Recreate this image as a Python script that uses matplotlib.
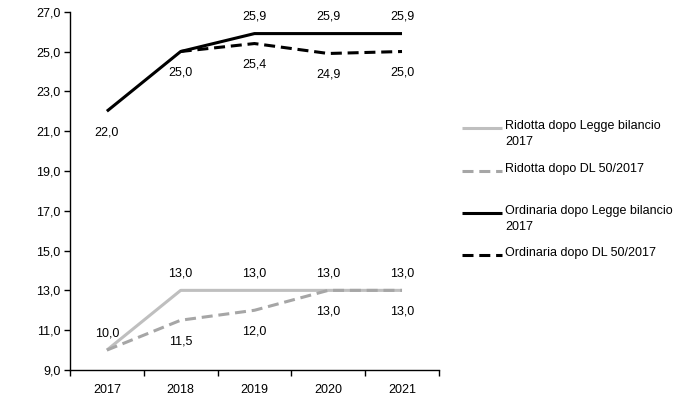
import matplotlib
matplotlib.use("Agg")
import matplotlib.pyplot as plt
import numpy as np

plt.rcParams['font.family'] = ['Liberation Sans', 'DejaVu Sans']

years = ['2017', '2018', '2019', '2020', '2021']
ridotta_legge = [10.0, 13.0, 13.0, 13.0, 13.0]
ridotta_dl = [10.0, 11.5, 12.0, 13.0, 13.0]
ordinaria_legge = [22.0, 25.0, 25.9, 25.9, 25.9]
ordinaria_dl = [np.nan, 25.0, 25.4, 24.9, 25.0]

series_labels = ['Ridotta dopo Legge bilancio\n2017', 'Ridotta dopo DL 50/2017',
                 'Ordinaria dopo Legge bilancio\n2017', 'Ordinaria dopo DL 50/2017']

dash = (0, (3.6, 1.9))
styles = [
    dict(color='#bfbfbf', lw=2.2, ls='-'),
    dict(color='#a6a6a6', lw=2.2, ls=dash),
    dict(color='black', lw=2.2, ls='-'),
    dict(color='black', lw=2.2, ls=dash),
]

# label above (+1) or below (-1) the point, None for no label
label_pos = [
    [+1, +1, +1, +1, +1],
    [None, -1, -1, -1, -1],
    [-1, -1, +1, +1, +1],
    [None, None, -1, -1, -1],
]

fig = plt.figure(figsize=(7.0, 3.99), dpi=100)
ax = fig.add_axes([0.1, 0.0727, 0.527, 0.898])
x = np.arange(len(years))
data = [ridotta_legge, ridotta_dl, ordinaria_legge, ordinaria_dl]
for vals, st, lbl, pos in zip(data, styles, series_labels, label_pos):
    ax.plot(x, vals, solid_capstyle='butt', dash_capstyle='butt', label=lbl, **st)
    for i, v in enumerate(vals):
        if pos[i] is None or np.isnan(v):
            continue
        off = 12 if pos[i] > 0 else -15
        ax.annotate(f"{v:.1f}".replace('.', ','), (x[i], v), xytext=(0, off),
                    textcoords='offset points', ha='center', va='center', fontsize=9)

ax.set_xlim(-0.5, 4.5)
ax.set_ylim(9, 27)
yt = np.arange(9, 27.1, 2)
ax.set_yticks(yt)
ax.set_yticklabels([f"{t:.1f}".replace('.', ',') for t in yt])
ax.set_xticks(x)
ax.set_xticklabels(years)
ax.set_xticks(np.arange(-0.5, 4.6, 1), minor=True)
ax.tick_params(axis='x', which='major', length=0, pad=10, labelsize=9)
ax.tick_params(axis='x', which='minor', length=4, width=1, direction='out')
ax.tick_params(axis='y', length=4, width=1, direction='out', labelsize=9, pad=3)
for s in ['top', 'right']:
    ax.spines[s].set_visible(False)
for s in ['left', 'bottom']:
    ax.spines[s].set_linewidth(1)

# legend drawn by hand so the line sits on the first text row
lax = fig.add_axes([0, 0, 1, 1])
lax.set_xlim(0, 700)
lax.set_ylim(399, 0)
lax.axis('off')
rows = [128, 171, 213, 255]
for st, lbl, yy in zip(styles, series_labels, rows):
    lax.plot([462, 502], [yy, yy], solid_capstyle='butt', dash_capstyle='butt', **st)
    lax.text(505, yy - 8, lbl, ha='left', va='top', fontsize=9, linespacing=1.45)

fig.savefig('out.png', dpi=100)
